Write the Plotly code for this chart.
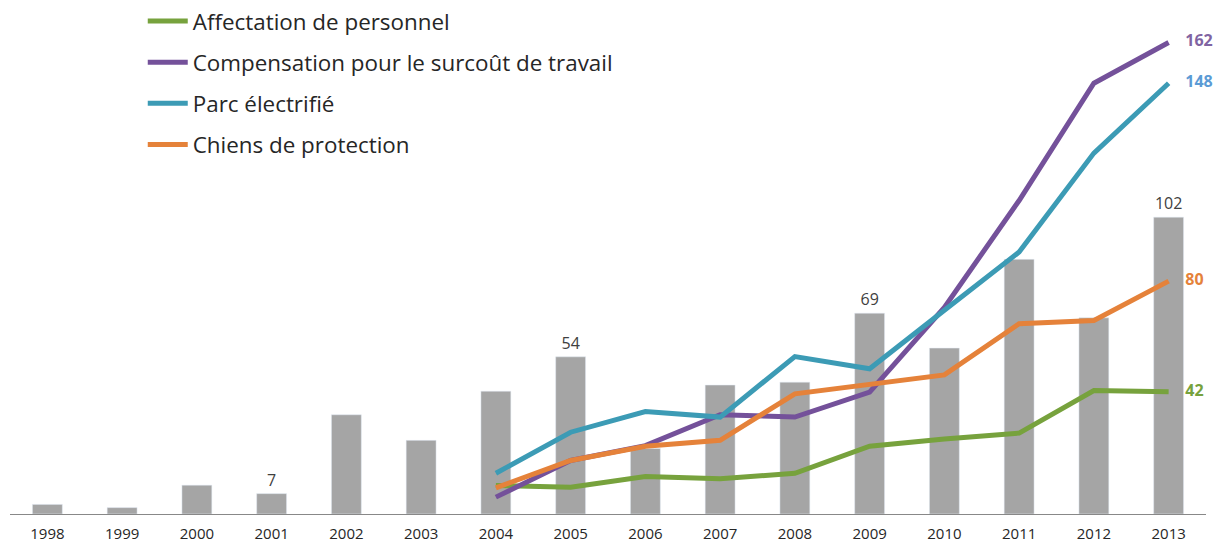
import plotly.graph_objects as go

# gadi un dati
years = list(range(1998, 2014))
bar_vals = [3.3, 2.2, 9.9, 7, 34.1, 25.3, 42.2, 54, 22.5, 44.3, 45.3, 69, 57, 87.5, 67.4, 102]
bar_text = ['', '', '', '7', '', '', '', '54', '', '', '', '69', '', '', '', '102']

line_years = list(range(2004, 2014))
affectation = [9.8, 9.2, 12.9, 12.1, 14, 23.3, 25.8, 27.8, 42.4, 42]
compensation = [5.8, 18.4, 23.5, 34.1, 33.3, 41.9, 71, 107.7, 148, 162]
parc = [14, 28.1, 35.2, 33.3, 54.1, 49.9, 70, 90, 124, 148]
chiens = [9, 18.4, 23.3, 25.3, 41.3, 44.4, 47.8, 65.4, 66.5, 80]

series = [
    ('Affectation de personnel', affectation, '#77a23d', '#77a23d'),
    ('Compensation pour le surcoût de travail', compensation, '#74519a', '#8064a2'),
    ('Parc électrifié', parc, '#3c9bb5', '#5b9bd5'),
    ('Chiens de protection', chiens, '#e5823a', '#e5823a'),
]

font = 'Open Sans'

fig = go.Figure()
fig.add_trace(go.Bar(x=years, y=bar_vals, width=0.4, marker_color='#a5a5a5',
                     text=bar_text, textposition='outside', cliponaxis=False,
                     textfont=dict(size=16, color='#404040', family=font),
                     showlegend=False))

for i, (name, vals, col, lab_col) in enumerate(series):
    txt = [''] * (len(vals) - 1) + ['\u00a0\u00a0\u00a0\u00a0' + str(round(vals[-1]))]
    fig.add_trace(go.Scatter(x=line_years, y=vals, name=name, mode='lines+text',
                             line=dict(color=col, width=5), text=txt,
                             textposition='middle right', cliponaxis=False,
                             textfont=dict(size=16, color=lab_col, family=font, weight='bold'),
                             legendgroup='g%d' % i))

fig.update_layout(
    width=1220, height=544,
    margin=dict(l=10, r=14, t=0, b=30),
    plot_bgcolor='white', paper_bgcolor='white',
    font=dict(family=font, color='#404040'),
    showlegend=True,
    legend=dict(x=0.111, y=1.0, xanchor='left', yanchor='top',
                font=dict(size=22.4, color='#262626', family=font), itemwidth=40,
                tracegroupgap=9, bgcolor='rgba(0,0,0,0)'),
    bargap=0.6,
)
fig.update_xaxes(range=[1997.5, 2013.5], tickmode='array', tickvals=years,
                 ticktext=[str(y) for y in years], showgrid=False, zeroline=False,
                 showline=True, linecolor='#888888', linewidth=1, automargin=False,
                 tickfont=dict(size=15, color='#262626'), ticklabelstandoff=6)
fig.update_yaxes(range=[0, 176.6], visible=False)

# lapai nav vajadziga body atkape
fig.write_html('out.html', config={'displayModeBar': False},
               post_script="document.body.style.margin='0';")
